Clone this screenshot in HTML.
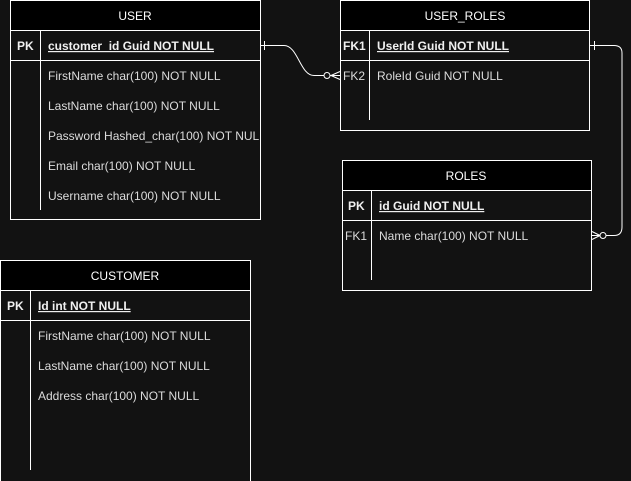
<!DOCTYPE html>
<html><head><meta charset="utf-8"><style>
html,body{margin:0;padding:0;background:#121212;}
svg{display:block;}
text{font-family:"Liberation Sans",Arial,sans-serif;font-size:12px;fill:#dcdcdc;}
.h{fill:#fff;text-anchor:middle;}
.b{font-weight:bold;fill:#f0f0f0;}
.u{text-decoration:underline;}
</style></head><body>
<svg width="631" height="481" viewBox="0 0 631 481" xmlns="http://www.w3.org/2000/svg">
<g stroke="#fff" stroke-width="1" fill="none">
<!-- USER -->
<rect x="10.5" y="0.5" width="250" height="219" fill="#121212"/>
<rect x="10.5" y="0.5" width="250" height="30" fill="#000"/>
<line x1="10" y1="60.5" x2="261" y2="60.5"/>
<line x1="40.5" y1="30" x2="40.5" y2="210"/>
<!-- USER_ROLES -->
<rect x="340.5" y="0.5" width="249" height="130" fill="#121212"/>
<rect x="340.5" y="0.5" width="249" height="30" fill="#000"/>
<line x1="340" y1="60.5" x2="590" y2="60.5"/>
<line x1="369.5" y1="30" x2="369.5" y2="120"/>
<!-- ROLES -->
<rect x="342.5" y="160.5" width="249" height="130" fill="#121212"/>
<rect x="342.5" y="160.5" width="249" height="30" fill="#000"/>
<line x1="342" y1="220.5" x2="592" y2="220.5"/>
<line x1="371.5" y1="190" x2="371.5" y2="280"/>
<!-- CUSTOMER -->
<rect x="0.5" y="260.5" width="250" height="221" fill="#121212"/>
<rect x="0.5" y="260.5" width="250" height="30" fill="#000"/>
<line x1="0" y1="320.5" x2="251" y2="320.5"/>
<line x1="30.5" y1="290" x2="30.5" y2="470"/>
<!-- connector 1 -->
<path d="M261 45.5 H284 C298 45.5 300 75.5 314 75.5 H324"/>
<line x1="264.5" y1="41" x2="264.5" y2="50"/>
<circle cx="327" cy="75.5" r="3"/>
<path d="M330 75.5 H340 M331 75.5 L340 71.5 M331 75.5 L340 79.5"/>
<!-- connector 2 -->
<path d="M590 45.5 H614 Q622 45.5 622 53 V227 Q622 235.5 614 235.5 H606"/>
<line x1="594.5" y1="41" x2="594.5" y2="50"/>
<circle cx="603" cy="235.5" r="3"/>
<path d="M600 235.5 H592 M600 235.5 L592 231.5 M600 235.5 L592 239.5"/>
</g>
<!-- USER text -->
<text class="h" x="135" y="20">USER</text>
<text class="b" x="17" y="50">PK</text>
<text class="b u" x="48" y="50">customer_id Guid  NOT NULL</text>
<text x="48" y="80">FirstName char(100) NOT NULL</text>
<text x="48" y="110">LastName char(100) NOT NULL</text>
<text x="48" y="140">Password Hashed_char(100) NOT NUL</text>
<text x="48" y="170">Email char(100) NOT NULL</text>
<text x="48" y="200">Username char(100) NOT NULL</text>
<!-- USER_ROLES text -->
<text class="h" x="465" y="20">USER_ROLES</text>
<text class="b" x="343" y="50">FK1</text>
<text class="b u" x="377" y="50">UserId Guid NOT NULL</text>
<text x="343" y="80">FK2</text>
<text x="377" y="80">RoleId Guid NOT NULL</text>
<!-- ROLES text -->
<text class="h" x="466" y="180">ROLES</text>
<text class="b" x="348" y="210">PK</text>
<text class="b u" x="379" y="210">id Guid NOT NULL</text>
<text x="345" y="240">FK1</text>
<text x="379" y="240">Name char(100) NOT NULL</text>
<!-- CUSTOMER text -->
<text class="h" x="125" y="280">CUSTOMER</text>
<text class="b" x="7" y="310">PK</text>
<text class="b u" x="38" y="310">Id  int NOT NULL</text>
<text x="38" y="340">FirstName char(100) NOT NULL</text>
<text x="38" y="370">LastName char(100) NOT NULL</text>
<text x="38" y="400">Address char(100) NOT NULL</text>
</svg>
</body></html>
